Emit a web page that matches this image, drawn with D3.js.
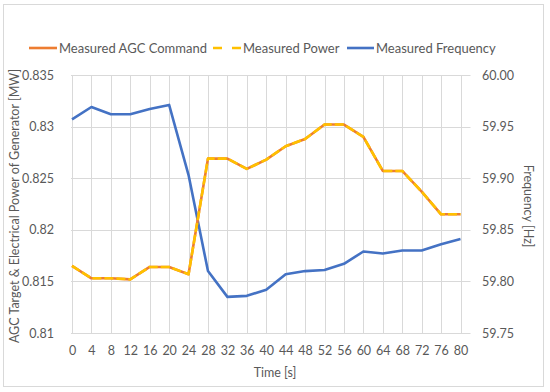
<!DOCTYPE html>
<html><head><meta charset="utf-8">
<script src="https://cdn.jsdelivr.net/npm/d3@7"></script>
<style>body{margin:0;background:#fff}svg{display:block}text{font-family:Lato,"Liberation Sans",sans-serif;fill:#595959}</style>
</head><body><svg id="c" width="550" height="392"></svg>
<script>
const times = [0,4,8,12,16,20,24,28,32,36,40,44,48,52,56,60,64,68,72,76,80];
const agcCommand = [0.8165,0.8153,0.8153,0.8152,0.8164,0.8164,0.8157,0.8269,0.8269,0.8259,0.8268,0.8281,0.8288,0.8302,0.8302,0.8290,0.8257,0.8257,0.8237,0.8215,0.8215];
const measuredPower = [0.8165,0.8153,0.8153,0.8152,0.8164,0.8164,0.8157,0.8269,0.8269,0.8259,0.8268,0.8281,0.8288,0.8302,0.8302,0.8290,0.8257,0.8257,0.8237,0.8215,0.8215];
const frequency = [59.957,59.969,59.962,59.962,59.967,59.971,59.903,59.810,59.785,59.786,59.792,59.807,59.810,59.811,59.817,59.829,59.827,59.830,59.830,59.836,59.841];
const leftTicks = [0.81,0.815,0.82,0.825,0.83,0.835];
const rightTicks = [59.75,59.80,59.85,59.90,59.95,60.00];
const seriesNames = ["Measured AGC Command","Measured Power","Measured Frequency"];
const colors = ["#ED7D31","#FFC000","#4472C4"];

const svg = d3.select("#c");
svg.append("rect").attr("x",3.5).attr("y",4.5).attr("width",540).attr("height",382)
  .attr("fill","#fff").attr("stroke","#d9d9d9");

const x = d3.scaleLinear().domain([0,80]).range([72,460.5]);
const yL = d3.scaleLinear().domain([0.81,0.835]).range([333,75]);
const yR = d3.scaleLinear().domain([59.75,60.00]).range([333,75]);

const g = svg.append("g");
g.selectAll(".hg").data(leftTicks).join("line")
  .attr("x1",71).attr("x2",470.5)
  .attr("y1",d=>Math.round(yL(d))+0.5).attr("y2",d=>Math.round(yL(d))+0.5)
  .attr("stroke","#d9d9d9").attr("stroke-width",1);
g.selectAll(".vg").data(times).join("line")
  .attr("x1",d=>Math.round(x(d))+0.5).attr("x2",d=>Math.round(x(d))+0.5)
  .attr("y1",75).attr("y2",333)
  .attr("stroke","#d9d9d9").attr("stroke-width",1);

const axL = d3.axisLeft(yL).tickValues(leftTicks).tickSize(0).tickPadding(0)
  .tickFormat(d=>d3.format("")(+d.toFixed(3)));
const gl = svg.append("g").attr("transform","translate(54,0)").call(axL);
gl.select(".domain").remove();
gl.selectAll("text").attr("font-size",12.5).style("fill","#595959").attr("font-family","Lato");

const axR = d3.axisRight(yR).tickValues(rightTicks).tickSize(0).tickPadding(0).tickFormat(d3.format(".2f"));
const gr = svg.append("g").attr("transform","translate(482,0)").call(axR);
gr.select(".domain").remove();
gr.selectAll("text").attr("font-size",12.5).style("fill","#595959").attr("font-family","Lato");

const axB = d3.axisBottom(x).tickValues(times).tickSize(0).tickPadding(0);
const gb = svg.append("g").attr("transform","translate(0,346)").call(axB);
gb.select(".domain").remove();
gb.selectAll("text").attr("font-size",12.5).style("fill","#595959").attr("font-family","Lato");

svg.append("text").attr("x",275).attr("y",377).attr("text-anchor","middle").attr("font-size",12.5).text("Time [s]");
svg.append("text").attr("transform","translate(19,206) rotate(-90)").attr("text-anchor","middle").attr("font-size",12.5)
  .text("AGC Target & Electrical Power of Generator [MW]");
svg.append("text").attr("transform","translate(524,206) rotate(90)").attr("text-anchor","middle").attr("font-size",12.5)
  .text("Frequency [Hz]");

const lineL = d3.line().x((d,i)=>x(times[i])).y(d=>yL(d));
const lineR = d3.line().x((d,i)=>x(times[i])).y(d=>yR(d));
svg.append("path").datum(frequency).attr("d",lineR).attr("fill","none")
  .attr("stroke",colors[2]).attr("stroke-width",2.6).attr("stroke-linejoin","round");
svg.append("path").datum(agcCommand).attr("d",lineL).attr("fill","none")
  .attr("stroke",colors[0]).attr("stroke-width",2.6).attr("stroke-linejoin","round");
svg.append("path").datum(measuredPower).attr("d",lineL).attr("fill","none")
  .attr("stroke",colors[1]).attr("stroke-width",2.6).attr("stroke-linejoin","round")
  .attr("stroke-dasharray","9,3");

const leg = svg.append("g");
const legItems = [
  {x1:29,x2:57,tx:59,dash:null},
  {x1:213,x2:241,tx:243,dash:"9,10"},
  {x1:347,x2:374,tx:376,dash:null}
];
legItems.forEach((it,i)=>{
  leg.append("line").attr("x1",it.x1).attr("x2",it.x2).attr("y1",48).attr("y2",48)
    .attr("stroke",colors[i]).attr("stroke-width",2.6).attr("stroke-dasharray",it.dash);
  leg.append("text").attr("x",it.tx).attr("y",52.5).attr("font-size",13).text(seriesNames[i]);
});
</script></body></html>
